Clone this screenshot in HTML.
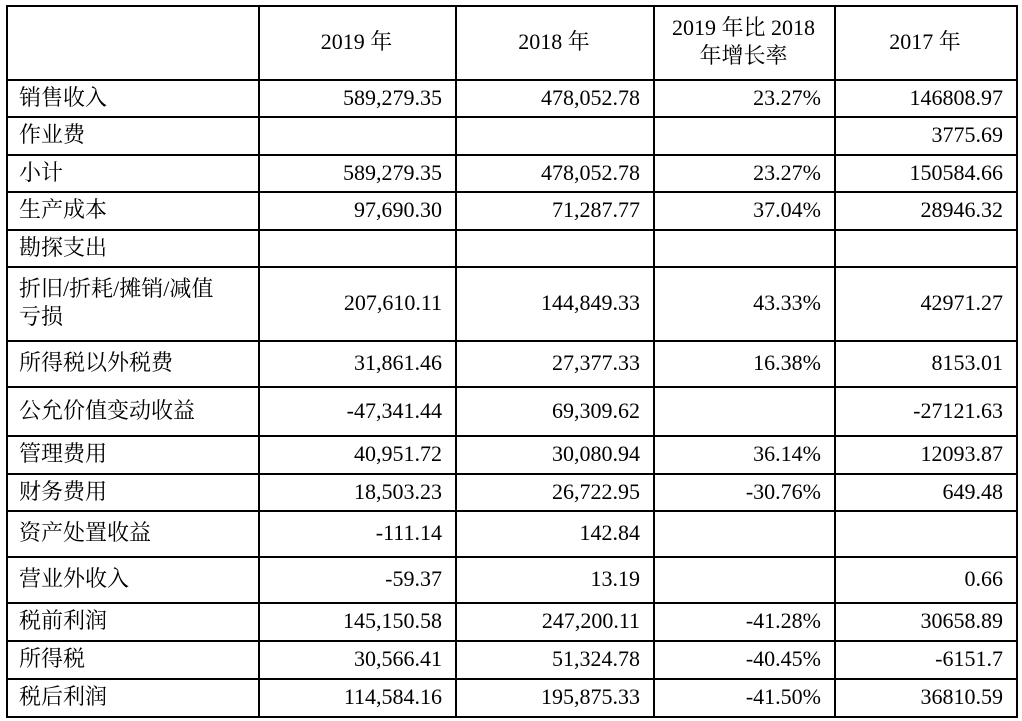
<!DOCTYPE html>
<html><head><meta charset="utf-8">
<style>
body{margin:0;background:#fff;width:1022px;height:721px;overflow:hidden;position:relative;font-family:"Liberation Serif","Noto Serif CJK SC",serif;color:#000}
.h{position:absolute;background:#000;height:1.5px}
.v{position:absolute;background:#000;width:1.5px}
.c{position:absolute;font-size:22px;line-height:28px;display:flex;align-items:center;box-sizing:border-box;white-space:nowrap}
.l{padding-left:13px;justify-content:flex-start}
.r{padding-right:13px;justify-content:flex-end}
.m{justify-content:center;text-align:center}
</style></head><body>
<div id="t"></div>
<script>
const cols=[6,258,455,653,834,1016];
const rows=[5,79,116,154,191,229,266,340,386,435,473,510,556,602,640,678,716];
const header=["","2019 年","2018 年","2019 年比 2018<br>年增长率","2017 年"];
const labels=["销售收入","作业费","小计","生产成本","勘探支出","折旧/折耗/摊销/减值<br>亏损","所得税以外税费","公允价值变动收益","管理费用","财务费用","资产处置收益","营业外收入","税前利润","所得税","税后利润"];
const v2019=["589,279.35","","589,279.35","97,690.30","","207,610.11","31,861.46","-47,341.44","40,951.72","18,503.23","-111.14","-59.37","145,150.58","30,566.41","114,584.16"];
const v2018=["478,052.78","","478,052.78","71,287.77","","144,849.33","27,377.33","69,309.62","30,080.94","26,722.95","142.84","13.19","247,200.11","51,324.78","195,875.33"];
const growth=["23.27%","","23.27%","37.04%","","43.33%","16.38%","","36.14%","-30.76%","","","-41.28%","-40.45%","-41.50%"];
const v2017=["146808.97","3775.69","150584.66","28946.32","","42971.27","8153.01","-27121.63","12093.87","649.48","","0.66","30658.89","-6151.7","36810.59"];
const t=document.getElementById('t');
function cell(ci,ri,html,cls,name){
  const d=document.createElement('div');
  d.className='c '+cls;
  d.style.left=cols[ci]+'px';d.style.width=(cols[ci+1]-cols[ci])+'px';
  d.style.top=rows[ri]+'px';d.style.height=(rows[ri+1]-rows[ri])+'px';
  d.innerHTML=html;
  
  
  t.appendChild(d);
}
header.forEach((h,i)=>cell(i,0,h,'m','header-cell'));
labels.forEach((lab,i)=>{
  cell(0,i+1,lab,'l','row-label');
  cell(1,i+1,v2019[i],'r','value-2019');
  cell(2,i+1,v2018[i],'r','value-2018');
  cell(3,i+1,growth[i],'r','growth-rate');
  cell(4,i+1,v2017[i],'r','value-2017');
});
rows.forEach(y=>{const d=document.createElement('div');d.className='h';d.style.top=y+'px';d.style.left=cols[0]+'px';d.style.width=(cols[5]-cols[0]+1.5)+'px';


t.appendChild(d);});
cols.forEach(x=>{const d=document.createElement('div');d.className='v';d.style.left=x+'px';d.style.top=rows[0]+'px';d.style.height=(rows[rows.length-1]-rows[0]+1.5)+'px';


t.appendChild(d);});
</script>
</body></html>
